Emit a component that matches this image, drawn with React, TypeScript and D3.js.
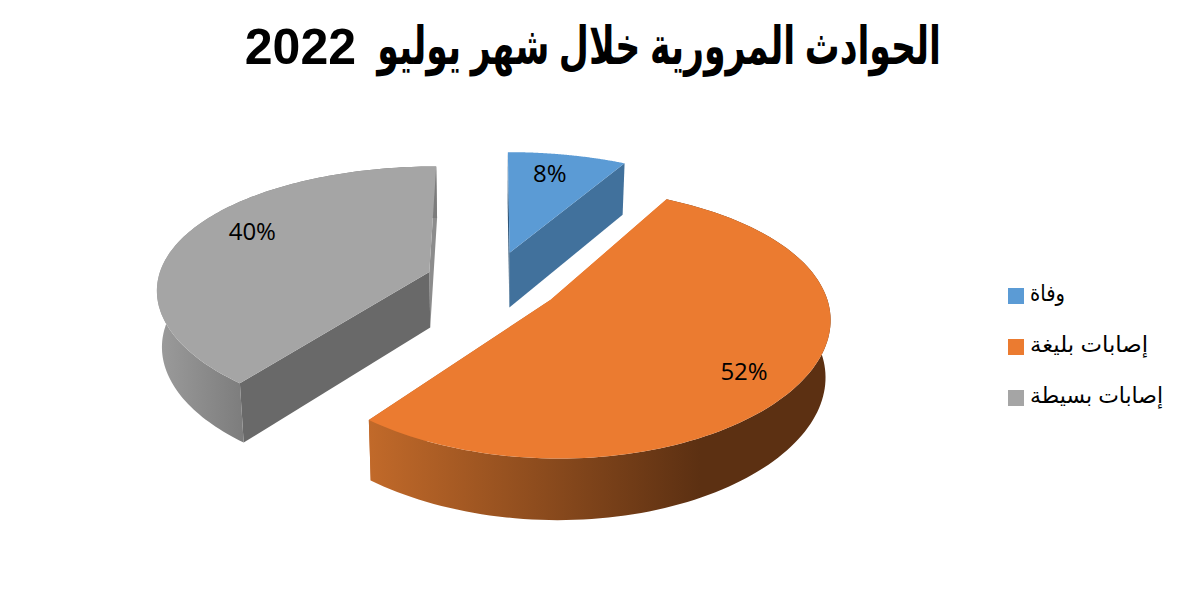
import React from "react";
import * as d3 from "d3";

const titleArabic = "الحوادث المرورية خلال شهر يوليو";
const titleYear = "2022";
const categories = ["وفاة", "إصابات بليغة", "إصابات بسيطة"];
const values = [8.1, 52.4, 39.5];
const percentLabels = ["8%", "52%", "40%"];
const topColors = ["#5b9bd5", "#eb7b30", "#a5a5a5"];
const startCutColors = ["#2f5577", "#eb7b30", "#696969"];
const endCutColors = ["#41719c", "#c0662a", "#8c8c8c"];
const wallStops = [
  ["#41719c", "#41719c"],
  ["#c26a2a", "#5c3012"],
  ["#9c9c9c", "#7c7c7c"],
];
const labelRadii = [0.79, 0.81, 0.78];
const labelShiftDeg = [-2, 4, 8];
const legendWidths = [35, 118, 133];

const W = 1181, H = 606;
const cx = 493, cy = 282, R = 272, Q = 126, ky = 0.165, kx = 0.123, kd = 0.08, explode = 0.25, depth = 56, shrink = 0.985;

type P = [number, number];
function proj(u: number, v: number, bottom = false): P {
  const wx = 1 / (1 - kx * v);
  const wy = 1 / (1 - ky * v);
  const wd = 1 / (1 - kd * v);
  const x = u * R * wx;
  const y = v * Q * wy;
  return bottom ? [cx + x * shrink, cy + y + depth * wd] : [cx + x, cy + y];
}

export default function App() {
  const arcs = d3.pie<number>().sort(null)(values);
  const line = d3.line<P>().x((d) => d[0]).y((d) => d[1]);
  const items = arcs.map((a, i) => {
    const mid = (a.startAngle + a.endAngle) / 2;
    const ou = explode * Math.sin(mid), ov = -explode * Math.cos(mid);
    const at = (t: number, r = 1, b = false) => proj(ou + r * Math.sin(t), ov - r * Math.cos(t), b);
    const ts = d3.range(0, 121).map((n) => a.startAngle + ((a.endAngle - a.startAngle) * n) / 120);
    const apexT = at(0, 0), apexB = at(0, 0, true);
    const top = [apexT, ...ts.map((t) => at(t))];
    const wall = [...ts.map((t) => at(t)), ...ts.slice().reverse().map((t) => at(t, 1, true))];
    const cutStart = [apexT, at(a.startAngle), at(a.startAngle, 1, true), apexB];
    const cutEnd = [apexT, at(a.endAngle), at(a.endAngle, 1, true), apexB];
    return { i, top, wall, cutStart, cutEnd, label: at(mid + (labelShiftDeg[i] * Math.PI) / 180, labelRadii[i]) };
  });
  const order = [2, 0, 1];
  const arFont = "'Liberation Sans','DejaVu Sans',sans-serif";
  return (
    <svg width={W} height={H} style={{ position: "absolute", left: 0, top: 0, background: "#fff" }}>
      <defs>
        <linearGradient id="wall1" gradientUnits="userSpaceOnUse" x1={366} x2={700} y1={0} y2={0}>
          <stop offset="0" stopColor={wallStops[1][0]} />
          <stop offset="1" stopColor={wallStops[1][1]} />
        </linearGradient>
        <linearGradient id="wall2" gradientUnits="userSpaceOnUse" x1={156} x2={245} y1={0} y2={0}>
          <stop offset="0" stopColor={wallStops[2][0]} />
          <stop offset="1" stopColor={wallStops[2][1]} />
        </linearGradient>
      </defs>
      <text transform="translate(941,64) scale(0.667,1)" textAnchor="end" fontWeight={700} fontSize={52}
        fontFamily={arFont} fill="#000">{titleArabic}</text>
      <text x={356} y={64} textAnchor="end" fontWeight={700} fontSize={50} fontFamily={arFont} fill="#000">{titleYear}</text>
      {order.map((i) => {
        const s = items[i];
        return (
          <g key={i}>
            <path d={line(s.cutEnd) + "Z"} fill={endCutColors[i]} />
            <path d={line(s.cutStart) + "Z"} fill={startCutColors[i]} />
            {i !== 0 && <path d={line(s.wall) + "Z"} fill={`url(#wall${i})`} />}
            <path d={line(s.top) + "Z"} fill={topColors[i]} />
          </g>
        );
      })}
      {items.map((s) => (
        <text key={s.i} x={s.label[0]} y={s.label[1]} textAnchor="middle" dominantBaseline="central"
          fontSize={24} fontFamily="'Open Sans',sans-serif" fill="#000">{percentLabels[s.i]}</text>
      ))}
      {categories.map((c, i) => (
        <g key={c} transform={`translate(1008,${288 + i * 51})`}>
          <rect width={16} height={16} fill={topColors[i]} />
          <text x={22} y={13} fontSize={22} textLength={legendWidths[i]} lengthAdjust="spacingAndGlyphs"
            fontFamily={arFont} fill="#000">{c}</text>
        </g>
      ))}
    </svg>
  );
}
